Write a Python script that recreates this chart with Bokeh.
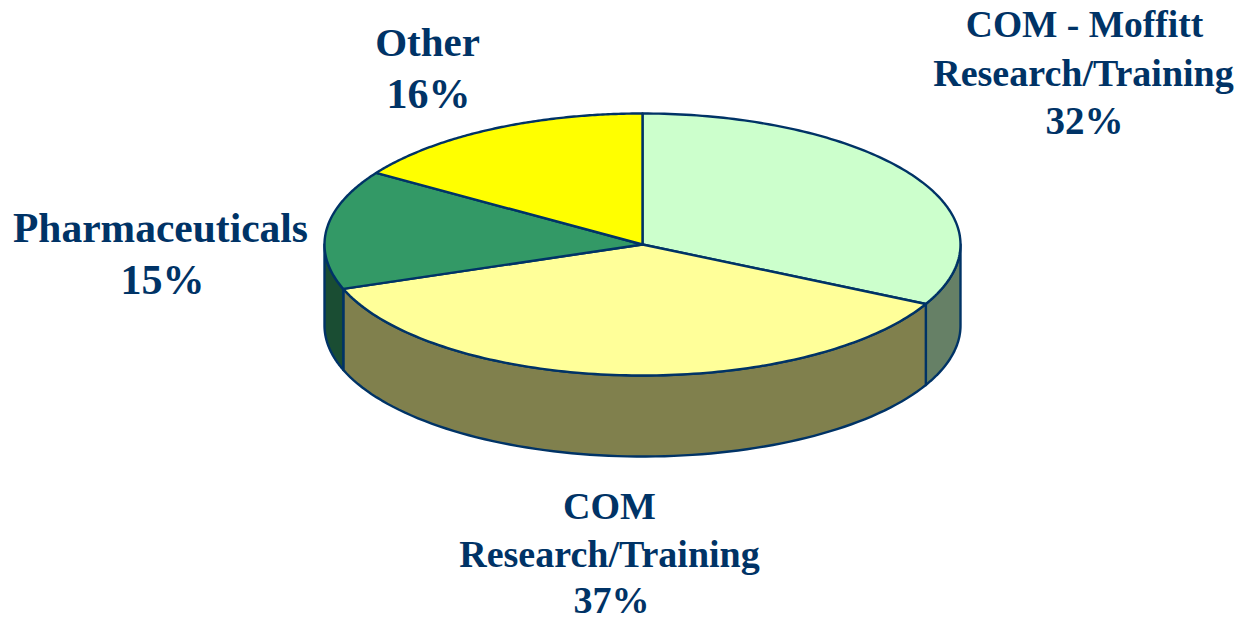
import numpy as np
from bokeh.plotting import figure
from bokeh.models import Range1d, ColumnDataSource
from bokeh.core.properties import value
from bokeh.embed import file_html
from bokeh.resources import INLINE

categories = ["COM - Moffitt Research/Training", "COM Research/Training", "Pharmaceuticals", "Other"]
shares = [32.5, 37.0, 14.7, 15.8]
top_colors = ["#CCFFCC", "#FFFF99", "#339966", "#FFFF00"]
side_colors = ["#668066", "#80804D", "#1A4D33", "#808000"]
label_lines = ["COM - Moffitt", "Research/Training", "32%", "Other", "16%",
               "Pharmaceuticals", "15%", "COM", "Research/Training", "37%"]

# layout of the texts, in page pixels
label_x = [1084, 1083, 1084, 427, 428, 160, 162, 609, 609, 611]
label_y = [24, 72, 120, 41, 93, 227, 279, 505, 553, 599]
label_size = ["37.5px", "38px", "39px", "41px", "42px", "41.5px", "42px", "38px", "38px", "38px"]

W, H = 1242, 620
CX, CY, RX, RY, DEPTH = 642, 244, 318, 131, 81
INK = "#003366"

p = figure(width=W, height=H, output_backend="svg", toolbar_location=None,
           x_range=Range1d(0, W), y_range=Range1d(H, 0),
           min_border=0, outline_line_color=None, background_fill_color="white",
           border_fill_color="white")
p.axis.visible = False
p.grid.visible = False

def ex(a):
    return CX + RX * np.cos(a)

def ey(a):
    return CY - RY * np.sin(a)

# slice angles run clockwise from 12 o'clock
edges = np.pi / 2 - 2 * np.pi * np.concatenate([[0], np.cumsum(shares)]) / sum(shares)

# side walls: only the front half of the rim shows
for i in range(len(shares)):
    hi = min(edges[i], 0.0)
    lo = max(edges[i + 1], -np.pi)
    if hi <= lo:
        continue
    t = np.linspace(hi, lo, 80)
    xs = np.concatenate([ex(t), ex(t[::-1])])
    ys = np.concatenate([ey(t), ey(t[::-1]) + DEPTH])
    p.patch(xs, ys, fill_color=side_colors[i], line_color=INK, line_width=2.4, line_join="round")

# top faces
for i in range(len(shares)):
    t = np.linspace(edges[i], edges[i + 1], 120)
    xs = np.concatenate([[CX], ex(t)])
    ys = np.concatenate([[CY], ey(t)])
    p.patch(xs, ys, fill_color=top_colors[i], line_color=INK, line_width=2.4, line_join="round")

src = ColumnDataSource(dict(x=label_x, y=label_y, t=label_lines, s=label_size))
p.text("x", "y", text="t", source=src, text_font_size="s",
       text_font=value("Liberation Serif"), text_font_style="bold",
       text_color=INK, text_align="center", text_baseline="middle")

open("out.html", "w").write(file_html(p, INLINE))
